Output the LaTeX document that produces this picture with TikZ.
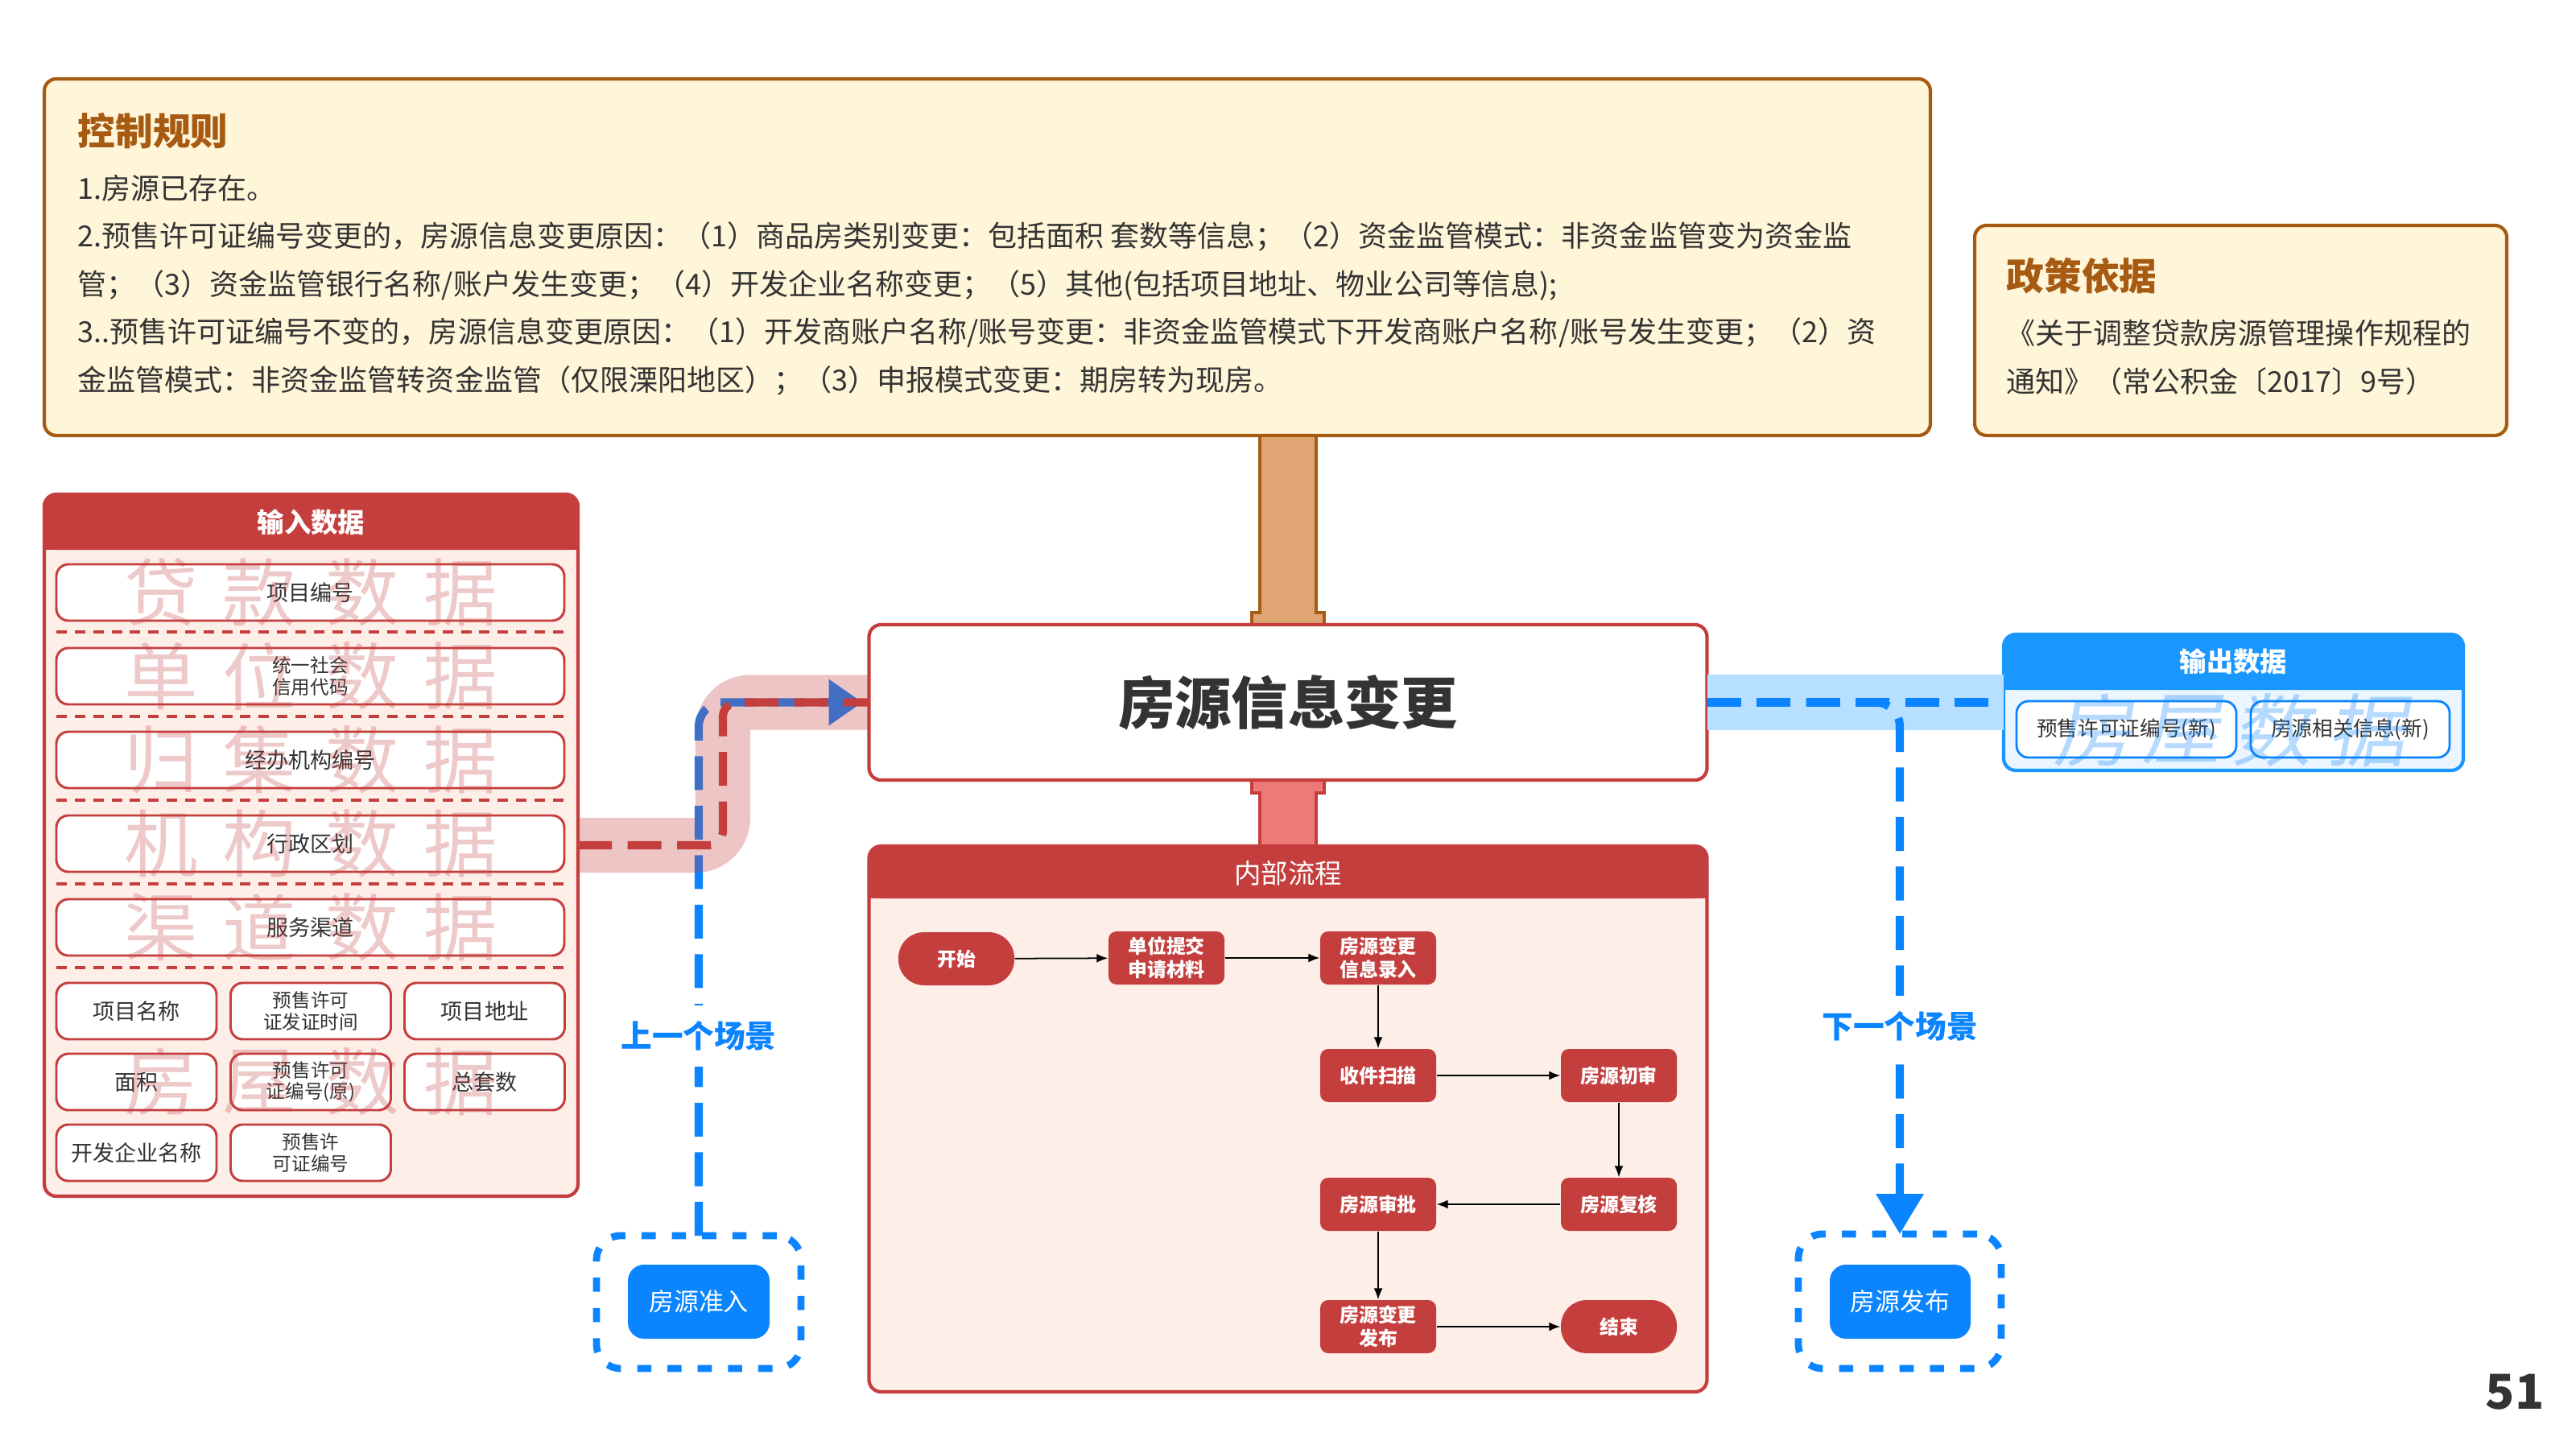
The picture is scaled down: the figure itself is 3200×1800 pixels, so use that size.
\documentclass[tikz,border=0pt]{standalone}
\usepackage{fontspec}
\setmainfont{Noto Sans CJK SC}
\newfontfamily\wmslant[FakeSlant=0.2]{Noto Sans CJK SC}
\usetikzlibrary{arrows.meta,positioning}

\definecolor{ctrlbrown}{HTML}{A65A12}
\definecolor{ctrlfill}{HTML}{FFF5D9}
\definecolor{barorange}{HTML}{DFA673}
\definecolor{mainred}{HTML}{C53E3E}
\definecolor{palered}{HTML}{FDEEE8}
\definecolor{barred}{HTML}{EC7A78}
\definecolor{mainblue}{HTML}{0A84FF}
\definecolor{headblue}{HTML}{1A96FF}
\definecolor{paleblue}{HTML}{EAF5FF}
\definecolor{bandblue}{HTML}{B7DFFF}
\definecolor{txtgray}{HTML}{333333}

\tikzset{
  infobox/.style={draw=ctrlbrown, fill=ctrlfill, line width=1.2pt, rounded corners=1.5mm, inner sep=0pt, outer sep=0pt},
  infotitle/.style={anchor=west, text=ctrlbrown, font=\fontsize{13.3}{16}\selectfont\bfseries, inner sep=0pt},
  infotext/.style={anchor=west, text=txtgray, align=left, font=\fontsize{10.25}{16.9}\selectfont, inner sep=0pt},
  panel/.style={draw=#1, line width=1.2pt, rounded corners=1.5mm, inner sep=0pt, outer sep=0pt},
  headtext/.style={text=white, font=\fontsize{9.5}{11}\selectfont\bfseries, inner sep=0pt},
  databox/.style={draw=mainred, fill=white, line width=0.85pt, rounded corners=1.5mm, text=txtgray, align=center,
    minimum height=7mm, inner sep=0pt, font=\fontsize{7.7}{9}\selectfont},
  datasmall/.style={font=\fontsize{6.7}{7.6}\selectfont},
  sepline/.style={draw=mainred, line width=1.2pt, dash pattern=on 3.7pt off 2.8pt},
  watermark/.style={text=mainred, text opacity=0.28, font=\fontsize{26}{26}\selectfont, inner sep=0pt},
  bluemark/.style={text=mainblue, text opacity=0.3, font=\fontsize{28}{28}\selectfont\wmslant, inner sep=0pt},
  outbox/.style={draw=mainblue, fill=white, line width=0.8pt, rounded corners=1.5mm, text=txtgray,
    minimum height=7mm, inner sep=0pt, font=\fontsize{7.3}{9}\selectfont},
  changebox/.style={draw=mainred, fill=white, line width=1.2pt, rounded corners=1.5mm, inner sep=0pt, outer sep=0pt,
    minimum width=104.1mm, minimum height=19.3mm, text=txtgray, font=\fontsize{20}{24}\selectfont\bfseries},
  flowbox/.style={fill=mainred, text=white, rounded corners=1mm, minimum width=14.4mm, minimum height=6.6mm,
    inner sep=0pt, align=center, font=\fontsize{6.8}{8.2}\selectfont\bfseries},
  flowend/.style={flowbox, rounded corners=3.2mm},
  flowarrow/.style={-{Latex[length=1.4mm,width=1.1mm]}, line width=0.5pt, black},
  redband/.style={draw=mainred, draw opacity=0.3, line width=19.4pt, rounded corners=3.4mm},
  blueband/.style={draw=bandblue, line width=19.8pt},
  redflow/.style={draw=mainred, line width=2.9pt, dash pattern=on 12pt off 5.5pt, rounded corners=1.8mm},
  blueflow/.style={draw=mainblue, line width=2.9pt, dash pattern=on 12pt off 5.5pt, rounded corners=3mm},
  sceneframe/.style={draw=mainblue, line width=2.5pt, dash pattern=on 5pt off 5.7pt, rounded corners=3mm,
    minimum width=25.4mm, minimum height=16.5mm, inner sep=0pt, outer sep=0pt},
  scenebtn/.style={fill=mainblue, text=white, rounded corners=2mm, minimum width=17.6mm, minimum height=9.2mm,
    inner sep=0pt, font=\fontsize{8.8}{10}\selectfont},
  scenelabel/.style={fill=white, text=mainblue, inner xsep=0.5mm, inner ysep=2mm, font=\fontsize{11}{13}\selectfont\bfseries},
}

\begin{document}
\begin{tikzpicture}[x=0.1mm, y=-0.1mm]
\useasboundingbox (0,0) rectangle (3200,1800);

% control rules, policy
\node[infobox, minimum width=234.3mm, minimum height=44.3mm] (ctrl) at (1226.5,319.5) {};
\node[infotitle] (ctrlTitle) at (96,163) {控制规则};
\node[infotext] (ctrlText) at (96,354) {1.房源已存在。\\
2.预售许可证编号变更的，房源信息变更原因：（1）商品房类别变更：包括面积 套数等信息；（2）资金监管模式：非资金监管变为资金监\\
管；（3）资金监管银行名称/账户发生变更；（4）开发企业名称变更；（5）其他(包括项目地址、物业公司等信息);\\
3..预售许可证编号不变的，房源信息变更原因：（1）开发商账户名称/账号变更：非资金监管模式下开发商账户名称/账号发生变更；（2）资\\
金监管模式：非资金监管转资金监管（仅限溧阳地区）；（3）申报模式变更：期房转为现房。};
\node[infobox, minimum width=66.1mm, minimum height=26.1mm] (policy) at (2783.5,410.5) {};
\node[infotitle] (policyTitle) at (2492,343) {政策依据};
\node[infotext] (policyText) at (2492,444) {《关于调整贷款房源管理操作规程的\\通知》（常公积金〔2017〕9号）};

% bars
\draw[draw=ctrlbrown, fill=barorange, line width=1.2pt] (1565,541) -- (1565,761) -- (1555,761) -- (1555,776)
  -- (1645,776) -- (1645,761) -- (1635,761) -- (1635,541) -- cycle;
\draw[draw=mainred, fill=barred, line width=1.2pt] (1555,969) -- (1555,985) -- (1565,985) -- (1565,1051)
  -- (1635,1051) -- (1635,985) -- (1645,985) -- (1645,969) -- cycle;

\node[changebox] (change) at (1600,872.5) {房源信息变更};

% internal process
\node[panel=mainred, fill=palered, minimum width=104.1mm, minimum height=67.8mm] (proc) at (1600,1390) {};
\fill[mainred, rounded corners=1.5mm] (proc.north west) rectangle ([yshift=-6.5mm]proc.north east);
\fill[mainred] ([yshift=-3mm]proc.north west) rectangle ([yshift=-6.5mm]proc.north east);
\node[headtext, font=\fontsize{9.5}{11}\selectfont] (procTitle) at ([yshift=-3.4mm]proc.north) {内部流程};

\node[flowend] (start) at (1188,1191) {开始};
\node[flowbox] (submit) at (1449,1190) {单位提交\\申请材料};
\node[flowbox] (entry) at (1712,1190) {房源变更\\信息录入};
\node[flowbox] (scan) at (1712,1336) {收件扫描};
\node[flowbox] (firstCheck) at (2011,1336) {房源初审};
\node[flowbox] (recheck) at (2011,1496) {房源复核};
\node[flowbox] (approve) at (1712,1496) {房源审批};
\node[flowbox] (publish) at (1712,1648) {房源变更\\发布};
\node[flowend] (finish) at (2011,1648) {结束};

\draw[flowarrow] (start) -- (submit);
\draw[flowarrow] (submit) -- (entry);
\draw[flowarrow] (entry) -- (scan);
\draw[flowarrow] (scan) -- (firstCheck);
\draw[flowarrow] (firstCheck) -- (recheck);
\draw[flowarrow] (recheck) -- (approve);
\draw[flowarrow] (approve) -- (publish);
\draw[flowarrow] (publish) -- (finish);

% input data
\node[panel=mainred, fill=palered, minimum width=66.3mm, minimum height=87.2mm] (inPanel) at (386.5,1050) {};
\fill[mainred, rounded corners=1.5mm] (inPanel.north west) rectangle ([yshift=-6.9mm]inPanel.north east);
\fill[mainred] ([yshift=-3mm]inPanel.north west) rectangle ([yshift=-6.9mm]inPanel.north east);
\node[headtext] (inTitle) at ([yshift=-3.5mm]inPanel.north) {输入数据};

\node[databox, minimum width=63.1mm] (projNo) at (385.5,736) {项目编号};
\node[databox, datasmall, minimum width=63.1mm] (creditCode) at (385.5,840) {统一社会\\信用代码};
\node[databox, minimum width=63.1mm] (agencyNo) at (385.5,944) {经办机构编号};
\node[databox, minimum width=63.1mm] (region) at (385.5,1048) {行政区划};
\node[databox, minimum width=63.1mm] (channel) at (385.5,1152) {服务渠道};

\node[databox, minimum width=19.9mm] (projName) at (169.5,1256) {项目名称};
\node[databox, datasmall, minimum width=19.9mm] (permitDate) at (386,1256) {预售许可\\证发证时间};
\node[databox, minimum width=19.9mm] (projAddr) at (602,1256) {项目地址};
\node[databox, minimum width=19.9mm] (area) at (169.5,1344) {面积};
\node[databox, datasmall, minimum width=19.9mm] (permitOld) at (386,1344) {预售许可\\证编号(原)};
\node[databox, minimum width=19.9mm] (unitCount) at (602,1344) {总套数};
\node[databox, minimum width=19.9mm] (devName) at (169.5,1432) {开发企业名称};
\node[databox, datasmall, minimum width=19.9mm] (permitNo) at (386,1432) {预售许\\可证编号};

\foreach \sy in {785,890,994,1098,1202}
  \draw[sepline] (70,\sy) -- (701,\sy);

\foreach \cha/\chb/\chc/\chd/\rowy in {贷/款/数/据/736, 单/位/数/据/840, 归/集/数/据/944,
    机/构/数/据/1048, 渠/道/数/据/1152, 房/屋/数/据/1344} {
  \node[watermark] (wm\rowy a) at (200,\rowy) {\cha};
  \node[watermark] (wm\rowy b) at (322,\rowy) {\chb};
  \node[watermark] (wm\rowy c) at (450,\rowy) {\chc};
  \node[watermark] (wm\rowy d) at (572,\rowy) {\chd};
}

% output data
\node[panel=headblue, fill=paleblue, minimum width=57.1mm, minimum height=16.9mm] (outPanel) at (2774.5,872.5) {};
\fill[headblue, rounded corners=1.5mm] (outPanel.north west) rectangle ([yshift=-6.9mm]outPanel.north east);
\fill[headblue] ([yshift=-3mm]outPanel.north west) rectangle ([yshift=-6.9mm]outPanel.north east);
\node[headtext] (outTitle) at ([yshift=-3.4mm]outPanel.north) {输出数据};
\node[outbox, minimum width=27.3mm] (permitNew) at (2641.5,906) {预售许可证编号(新)};
\node[outbox, minimum width=24.7mm] (houseNew) at (2919.5,906) {房源相关信息(新)};
\node[bluemark] (bm1) at (2600,907) {房};
\node[bluemark] (bm2) at (2710,907) {屋};
\node[bluemark] (bm3) at (2822,907) {数};
\node[bluemark] (bm4) at (2940,907) {据};

% scenes
\node[sceneframe] (entryFrame) at (868,1617.5) {};
\node[scenebtn] (entryBtn) at (868,1617) {房源准入};
\node[sceneframe, minimum width=25.2mm, minimum height=16.7mm] (pubFrame) at (2360,1616.5) {};
\node[scenebtn, minimum width=17.5mm] (pubBtn) at (2360.5,1617) {房源发布};

% flow ribbons
\coordinate (leftBend) at (898,0);
\coordinate (rightBend) at (2360,0);
\draw[blueflow, -{Triangle[length=4.2mm,width=5.5mm]}, shorten >=0.8mm]
  (entryFrame.north) -- (entryFrame.north |- change.west) -- (change.west);
\draw[redband] (inPanel.east) -- (leftBend |- inPanel.east) -- (leftBend |- change.west) -- (change.west);
\draw[redflow] (inPanel.east) -- (leftBend |- inPanel.east) -- (leftBend |- change.west) -- (change.west);

\draw[blueband] (change.east) -- (outPanel.west);
\draw[blueflow] (change.east) -- (outPanel.west);
\draw[blueflow, -{Triangle[length=5mm,width=5.7mm]}]
  (change.east) -- (rightBend |- change.east) -- (pubFrame.north);

\node[scenelabel] (prevLabel) at (868,1287) {上一个场景};
\node[scenelabel] (nextLabel) at (2360,1275) {下一个场景};

\node[text=txtgray, font=\fontsize{17}{20}\selectfont\bfseries] (pageNo) at (3124,1729) {51};
\end{tikzpicture}
\end{document}
